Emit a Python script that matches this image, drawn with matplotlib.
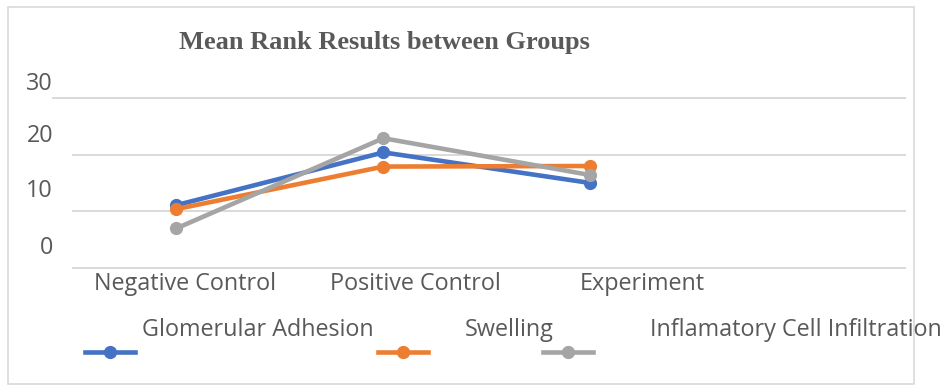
import numpy as np
import matplotlib.pyplot as plt
from matplotlib.lines import Line2D
from matplotlib.patches import Rectangle

# data
groups = ["Negative Control", "Positive Control", "Experiment"]
glomerular = [11.1, 20.4, 15.0]
swelling = [10.4, 17.9, 18.0]
inflam = [7.0, 22.9, 16.4]
series_names = ["Glomerular Adhesion", "Swelling", "Inflamatory Cell Infiltration"]
colors = ["#4472C4", "#ED7D31", "#A5A5A5"]
yticks = [0, 10, 20, 30]

txt = "#595959"
sans = ["Open Sans", "DejaVu Sans"]
fs = 16.8

fig = plt.figure(figsize=(9.42, 3.91), dpi=100)
W, H = 942, 391
# chart border
fig.patches.append(Rectangle((8 / W, 1 - 384 / H), 906 / W, 377 / H, transform=fig.transFigure,
                             fill=False, edgecolor="#D9D9D9", linewidth=1.2))

ax = fig.add_axes([73 / W, 1 - 268 / H, (905 - 73) / W, (268 - 98) / H])
x = np.arange(len(groups))

# gridlines (the top one runs a bit further left, as in the reference)
for v in yticks:
    ax.axhline(v, xmin=-0.024 if v == yticks[-1] else 0, xmax=1, color="#D9D9D9",
               lw=1.4, clip_on=False, zorder=0)

for vals, c in zip([glomerular, swelling, inflam], colors):
    ax.plot(x, vals, color=c, lw=3.3, marker="o", ms=8.5, solid_capstyle="round", zorder=3)

ax.set_xlim(-0.5, 3.52)
ax.set_ylim(0, 30)
for s in ax.spines.values():
    s.set_visible(False)
ax.set_yticks([])
ax.tick_params(length=0, labelcolor=txt)

# x tick labels sit offset to the right in the reference
ax.set_xticks(x + np.array([0.04, 0.155, 0.25]))
ax.set_xticklabels(groups, fontsize=fs, family=sans)
ax.tick_params(axis="x", pad=3)

# y tick labels float above their gridlines
for v, dy in zip(yticks, [20, 20, 19, 14]):
    ax.annotate(str(v), xy=(0, v), xycoords=("axes fraction", "data"),
                xytext=(-20, dy), textcoords="offset pixels", ha="right", va="center",
                fontsize=fs, family=sans, color=txt)

fig.text(384 / W, 1 - 43 / H, "Mean Rank Results between Groups", ha="center", va="center",
         fontsize=19, fontweight="bold", family="Liberation Serif", color=txt)

# legend, drawn by hand to match the odd layout
leg_line = [(85, 135), (378, 428), (543, 593)]
leg_text = [142, 465, 650]
for (x0, x1), tx, c, name in zip(leg_line, leg_text, colors, series_names):
    fig.add_artist(Line2D([x0 / W, x1 / W], [1 - 352 / H] * 2, color=c, lw=3.3,
                          transform=fig.transFigure))
    fig.add_artist(Line2D([(x0 + x1) / 2 / W], [1 - 352 / H], color=c, marker="o", ms=8.5,
                          transform=fig.transFigure))
    fig.text(tx / W, 1 - 330 / H, name, ha="left", va="center", fontsize=fs,
             family=sans, color=txt)

fig.savefig("out.png", dpi=100)
